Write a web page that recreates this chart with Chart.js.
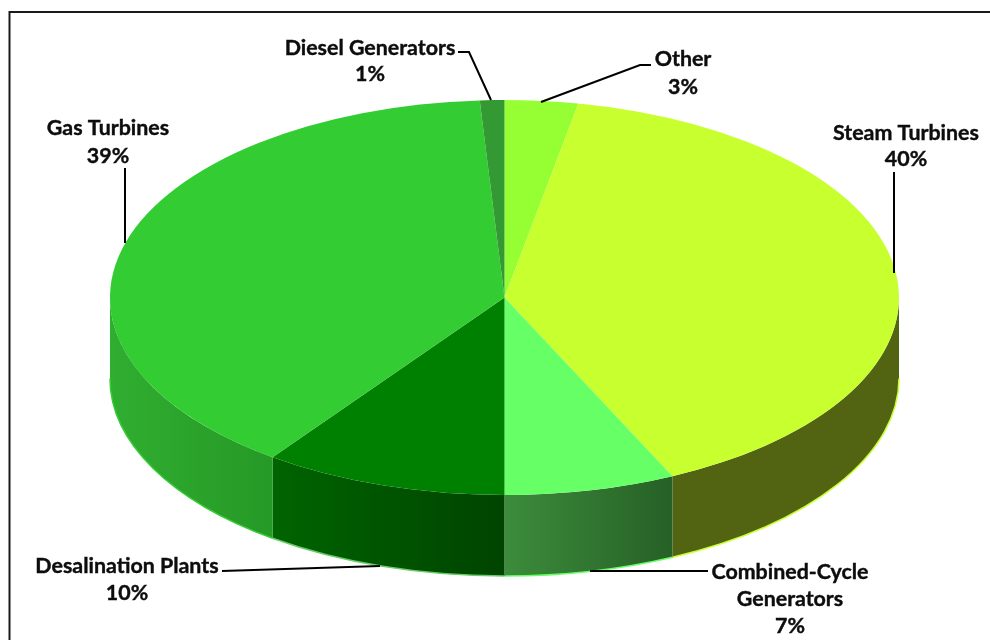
<!DOCTYPE html>
<html>
<head>
<meta charset="utf-8">
<title>Generation capacity by type</title>
<script src="https://cdn.jsdelivr.net/npm/chart.js@4"></script>
<style>
  html, body { margin: 0; padding: 0; background: #fff; }
  canvas { display: block; }
</style>
</head>
<body>
<canvas id="pie" width="990" height="640"></canvas>
<script>
const categories = ['Other', 'Steam Turbines', 'Combined-Cycle Generators', 'Desalination Plants', 'Gas Turbines', 'Diesel Generators'];
const shares = [3, 40, 7, 10, 39, 1];

const topColors = ['#96ff33', '#c8ff2f', '#66ff66', '#008000', '#33cc33', '#339933'];
const sideLeft = ['#60a020', '#526412', '#3c8c3c', '#006400', '#30ae30', '#267326'];
const sideRight = ['#60a020', '#526412', '#266026', '#004400', '#269926', '#267326'];

// the flattened disc on the page
const disc = { cx: 504.5, cy: 297.5, rx: 394.5, ry: 197.5, depth: 81 };

// text lines and leader lines for each slice
const labelLines = [
  ['Other', '3%'],
  ['Steam Turbines', '40%'],
  ['Combined-Cycle', 'Generators', '7%'],
  ['Desalination Plants', '10%'],
  ['Gas Turbines', '39%'],
  ['Diesel Generators', '1%']
];
const labelSpots = [
  { x: 683, y: [59, 87] },
  { x: 906, y: [133, 159] },
  { x: 790, y: [572, 599, 626] },
  { x: 127, y: [566, 593] },
  { x: 108, y: [128, 156] },
  { x: 370, y: [48, 74] }
];
const leaders = [
  [[541, 102], [640, 65], [651, 65]],
  [[894, 172], [894, 273]],
  [[590, 571], [708, 571]],
  [[222, 571], [380, 566]],
  [[125, 168], [125, 243]],
  [[458, 52], [469, 52], [491, 100]]
];

const tiltedPie = {
  id: 'tiltedPie',
  beforeDatasetsDraw(chart) {
    const ctx = chart.ctx;
    const arcs = chart.getDatasetMeta(0).data;
    // walls first, only the part of each slice facing the viewer
    arcs.forEach((arc, i) => {
      const a0 = Math.max(arc.startAngle, 0);
      const a1 = Math.min(arc.endAngle, Math.PI);
      if (a1 <= a0) return;
      const x0 = disc.cx + disc.rx * Math.cos(a0);
      const x1 = disc.cx + disc.rx * Math.cos(a1);
      const grad = ctx.createLinearGradient(Math.min(x0, x1), 0, Math.max(x0, x1), 0);
      grad.addColorStop(0, sideLeft[i]);
      grad.addColorStop(1, sideRight[i]);
      ctx.save();
      ctx.beginPath();
      ctx.ellipse(disc.cx, disc.cy, disc.rx, disc.ry, 0, a0, a1);
      ctx.ellipse(disc.cx, disc.cy + disc.depth, disc.rx, disc.ry, 0, a1, a0, true);
      ctx.closePath();
      ctx.fillStyle = grad;
      ctx.fill();
      // pale rim along the bottom edge
      ctx.beginPath();
      ctx.ellipse(disc.cx, disc.cy + disc.depth, disc.rx, disc.ry, 0, a0, a1);
      ctx.strokeStyle = topColors[i] === '#008000' ? '#66cc66' : topColors[i];
      ctx.lineWidth = 1.5;
      ctx.stroke();
      ctx.restore();
    });
    // top face: the library's own arcs, squashed into the ellipse
    const first = arcs[0];
    ctx.save();
    ctx.translate(disc.cx, disc.cy);
    ctx.scale(disc.rx / first.outerRadius, disc.ry / first.outerRadius);
    ctx.translate(-first.x, -first.y);
  },
  afterDatasetsDraw(chart) {
    const ctx = chart.ctx;
    ctx.restore();

    // frame: top and left only
    ctx.strokeStyle = '#1a1a1a';
    ctx.lineWidth = 2;
    ctx.beginPath();
    ctx.moveTo(9.5, 640);
    ctx.lineTo(9.5, 12);
    ctx.lineTo(990, 12);
    ctx.stroke();

    ctx.strokeStyle = '#000';
    ctx.lineWidth = 2;
    leaders.forEach(pts => {
      ctx.beginPath();
      pts.forEach((p, k) => k ? ctx.lineTo(p[0], p[1]) : ctx.moveTo(p[0], p[1]));
      ctx.stroke();
    });

    ctx.fillStyle = '#0d0d0d';
    ctx.strokeStyle = '#0d0d0d';
    ctx.lineWidth = 0.4;
    ctx.font = 'bold 21.4px Lato';
    ctx.textAlign = 'center';
    ctx.textBaseline = 'middle';
    labelLines.forEach((lines, i) => {
      lines.forEach((t, k) => {
        ctx.fillText(t, labelSpots[i].x, labelSpots[i].y[k]);
        ctx.strokeText(t, labelSpots[i].x, labelSpots[i].y[k]);
      });
    });
  }
};

new Chart(document.getElementById('pie'), {
  type: 'pie',
  data: {
    labels: categories,
    datasets: [{
      data: shares,
      backgroundColor: topColors,
      borderWidth: 0,
      clip: false
    }]
  },
  options: {
    responsive: false,
    animation: false,
    events: [],
    plugins: {
      legend: { display: false },
      tooltip: { enabled: false }
    }
  },
  plugins: [tiltedPie]
});
</script>
</body>
</html>
